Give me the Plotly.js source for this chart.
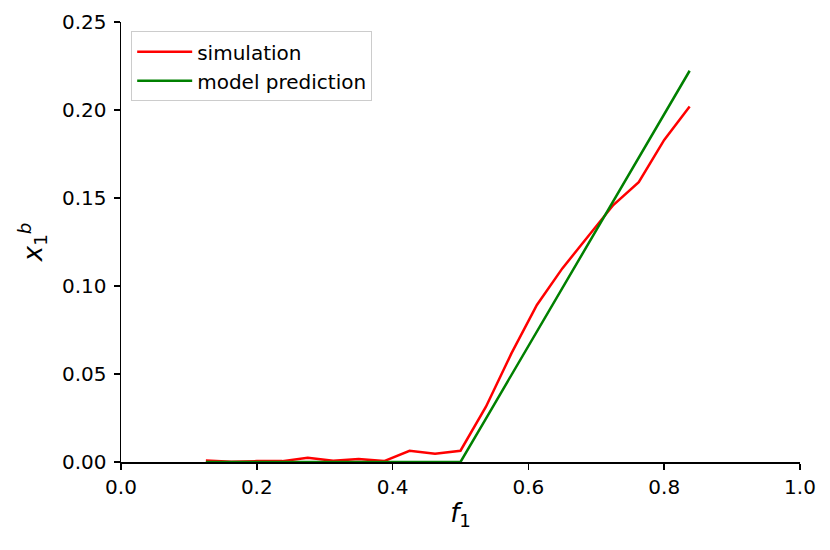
<!DOCTYPE html>
<html>
<head>
<meta charset="utf-8">
<script src="https://cdn.plot.ly/plotly-3.0.1.min.js"></script>
<style>html,body{margin:0;padding:0;background:#fff;}#chart{width:830px;height:550px;}</style>
</head>
<body>
<div id="chart"></div>
<script>
var fValues = [0.125, 0.1625, 0.2, 0.2375, 0.275, 0.3125, 0.35, 0.3875, 0.425, 0.4625, 0.5, 0.5375, 0.575, 0.6125, 0.65, 0.6875, 0.725, 0.7625, 0.8, 0.8375];
var simulationValues = [0.0008, 0.0002, 0.0005, 0.0005, 0.0024, 0.0007, 0.0017, 0.0005, 0.0064, 0.0047, 0.0064, 0.0314, 0.0617, 0.0892, 0.110, 0.128, 0.146, 0.159, 0.183, 0.202];
var modelValues = [0, 0, 0, 0, 0, 0, 0, 0, 0, 0, 0, 0.0247, 0.0494, 0.0741, 0.0988, 0.1235, 0.1482, 0.1729, 0.1976, 0.2223];
var xTickVals = [0, 0.2, 0.4, 0.6, 0.8, 1.0];
var yTickVals = [0, 0.05, 0.10, 0.15, 0.20, 0.25];

var font = "DejaVu Sans, sans-serif";
var traces = [
  {x: fValues, y: simulationValues, mode: 'lines', name: 'simulation',
   line: {color: '#ff0000', width: 2.5}},
  {x: fValues, y: modelValues, mode: 'lines', name: 'model prediction',
   line: {color: '#008000', width: 2.5}}
];
var layout = {
  width: 830, height: 550,
  margin: {l: 121, r: 30, t: 22, b: 88},
  paper_bgcolor: '#fff', plot_bgcolor: '#fff',
  font: {family: font, size: 20, color: '#000'},
  showlegend: true,
  legend: {x: 0.015, y: 0.979, xanchor: 'left', yanchor: 'top',
    bgcolor: 'rgba(255,255,255,0.8)', bordercolor: '#cccccc', borderwidth: 1,
    itemwidth: 55,
    font: {family: font, size: 20, color: '#000'}, tracegroupgap: 0},
  xaxis: {
    range: [0, 1], tickvals: xTickVals, tickformat: '.1f',
    showgrid: false, zeroline: false, showline: true, linecolor: '#000', linewidth: 1.5,
    ticks: 'outside', ticklen: 6, tickwidth: 1.5, tickcolor: '#000',
    tickfont: {family: font, size: 20},
    title: {text: '<i>f</i><sub>1</sub>', font: {family: font, size: 26}, standoff: 6}
  },
  yaxis: {
    range: [0, 0.25], tickvals: yTickVals, tickformat: '.2f',
    showgrid: false, zeroline: false, showline: true, linecolor: '#000', linewidth: 1.5,
    ticks: 'outside', ticklen: 6, tickwidth: 1.5, tickcolor: '#000',
    ticklabelstandoff: 3,
    tickfont: {family: font, size: 20},
    title: {text: '<i>x</i><sub>1</sub><sup><i>b</i></sup>', font: {family: font, size: 26}, standoff: 12}
  }
};
Plotly.newPlot('chart', traces, layout, {displayModeBar: false, staticPlot: true});
</script>
</body>
</html>
